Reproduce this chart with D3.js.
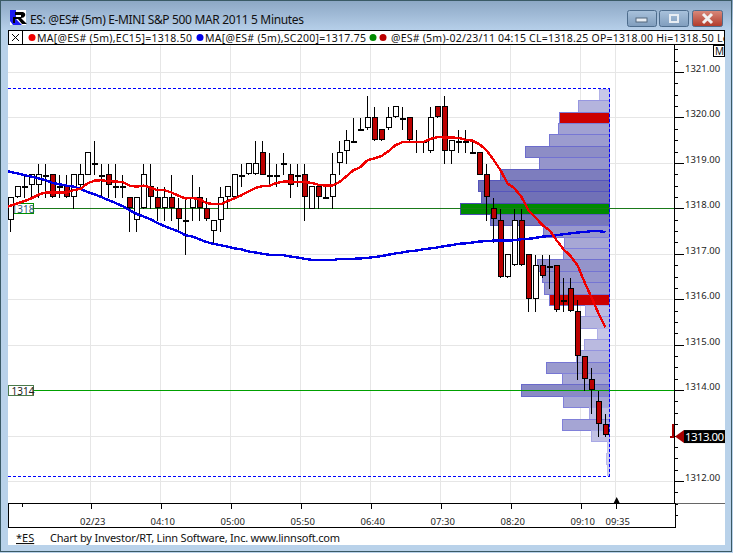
<!DOCTYPE html>
<html><head><meta charset="utf-8">
<style>html,body{margin:0;padding:0;background:#fff}svg{display:block}</style>
<script src="https://cdn.jsdelivr.net/npm/d3@7"></script></head><body>
<svg id="c" width="733" height="553"></svg>
<script>
const opens=[1317.75,1318.25,1318.5,1318.5,1318.5,1318.75,1318.75,1318.5,1318.5,1318.25,1318.5,1318.75,1319,1318.75,1318.75,1318.5,1318.5,1318.25,1317.75,1318,1318.5,1318.25,1318,1318.25,1318,1317.75,1318,1318.25,1318,1317.5,1317.75,1318.25,1318.25,1318.75,1318.75,1318.75,1319.25,1318.75,1318.75,1319,1318.75,1318.75,1318.75,1318,1318.5,1318.25,1318.25,1319,1319.25,1319.5,1319.75,1319.75,1320,1319.75,1319.75,1320,1320,1320,1319.5,1319.5,1319.25,1320.25,1320.25,1319.25,1319.5,1319.5,1319.25,1319.25,1318.75,1318,1317.75,1316.5,1316.75,1317.75,1317,1316,1316.75,1316.75,1316.75,1316,1316.25,1315.75,1314.75,1314.25,1313.75,1313.25];
const closes=[1318.25,1318.5,1318.5,1318.75,1318.75,1318.75,1318.25,1318.5,1318.25,1318.75,1318.75,1319.25,1319,1318.75,1318.5,1318.5,1318.5,1318,1318.25,1318.75,1318.25,1318,1318.25,1318,1317.75,1317.75,1318.25,1318,1317.75,1317.75,1318.25,1318.5,1318.75,1318.75,1319,1319,1318.75,1318.75,1318.75,1319,1318.5,1318.75,1318.25,1318.5,1318.25,1318.25,1318.75,1319.25,1319.5,1319.5,1319.75,1320,1319.5,1319.5,1320,1320.25,1320,1319.5,1319.5,1319.5,1320,1320,1319.25,1319.5,1319.5,1319.5,1319.25,1318.75,1318.25,1317.75,1316.5,1317,1317.75,1316.75,1316,1316.75,1316.5,1316.75,1315.75,1316,1315.75,1314.75,1314.25,1314,1313.25,1313];
const highs=[1318.25,1318.5,1318.75,1318.75,1319,1319,1318.75,1318.75,1318.75,1318.75,1319,1319.25,1319.5,1319,1319,1319,1318.75,1318.25,1318.25,1319,1319,1318.5,1318.5,1318.75,1318.25,1318.25,1318.75,1318.5,1318.25,1317.75,1318.5,1318.5,1318.75,1319,1319,1319.5,1319.5,1319.25,1319,1319.25,1319,1319,1319,1318.5,1318.5,1318.5,1319.25,1319.5,1319.75,1320,1320,1320.5,1320.25,1319.75,1320.25,1320.25,1320.25,1320,1319.75,1319.5,1320.25,1320.25,1320.5,1319.5,1319.75,1319.75,1319.5,1319.25,1319,1318.25,1318,1317,1318,1318,1317,1317,1317,1317,1316.75,1316.5,1316.5,1316,1314.75,1314.5,1314,1313.5];
const lows=[1317.5,1318.25,1318.25,1318.25,1318.25,1318.25,1318.25,1318.25,1318.25,1318,1318.5,1318.75,1318.75,1318.25,1318.25,1318.25,1318.25,1317.5,1317.5,1318,1318,1317.75,1317.75,1317.75,1317.5,1317,1317.75,1317.75,1317.75,1317.25,1317.5,1318,1318.25,1318.5,1318.75,1318.75,1318.75,1318.5,1318.5,1318.75,1318.25,1318.5,1317.75,1318,1318,1318.25,1318,1318.75,1319,1319.5,1319.75,1319.75,1319.5,1319.5,1319.75,1320,1319.75,1319.5,1319.25,1319.25,1319.25,1320,1319,1319,1319.25,1319.25,1319.25,1318.75,1317.75,1317.25,1316.5,1316.5,1316.75,1316.75,1315.75,1315.75,1316.5,1316.25,1315.75,1315.75,1315.75,1314.25,1314,1313.5,1313,1313];
const ema15=[1318.07,1318.12,1318.17,1318.23,1318.31,1318.36,1318.36,1318.36,1318.36,1318.41,1318.44,1318.56,1318.62,1318.63,1318.61,1318.60,1318.59,1318.51,1318.49,1318.51,1318.47,1318.41,1318.41,1318.36,1318.29,1318.23,1318.24,1318.21,1318.13,1318.10,1318.10,1318.17,1318.23,1318.30,1318.38,1318.46,1318.50,1318.51,1318.57,1318.60,1318.60,1318.59,1318.59,1318.57,1318.53,1318.51,1318.51,1318.59,1318.72,1318.85,1318.92,1319.07,1319.11,1319.16,1319.27,1319.40,1319.47,1319.47,1319.47,1319.47,1319.54,1319.58,1319.57,1319.57,1319.56,1319.52,1319.50,1319.42,1319.29,1319.08,1318.85,1318.56,1318.45,1318.26,1317.97,1317.81,1317.64,1317.53,1317.31,1317.11,1316.96,1316.76,1316.39,1316.05,1315.70,1315.39];
const sma200=[1318.81,1318.78,1318.74,1318.71,1318.67,1318.63,1318.57,1318.54,1318.51,1318.49,1318.44,1318.37,1318.32,1318.26,1318.19,1318.13,1318.06,1317.97,1317.89,1317.83,1317.77,1317.69,1317.62,1317.56,1317.50,1317.42,1317.39,1317.33,1317.27,1317.23,1317.20,1317.17,1317.13,1317.11,1317.06,1317.04,1317.01,1316.99,1316.98,1316.98,1316.95,1316.93,1316.90,1316.88,1316.87,1316.87,1316.87,1316.90,1316.90,1316.90,1316.91,1316.92,1316.94,1316.96,1316.99,1317.02,1317.04,1317.07,1317.08,1317.11,1317.13,1317.15,1317.18,1317.20,1317.23,1317.24,1317.26,1317.28,1317.29,1317.30,1317.30,1317.30,1317.31,1317.33,1317.34,1317.36,1317.39,1317.40,1317.42,1317.44,1317.46,1317.48,1317.49,1317.51,1317.51,1317.49];
const emaLead=1318.05, smaLead=1318.83;
const profilePrices=[1320.5,1320.25,1320,1319.75,1319.5,1319.25,1319,1318.75,1318.5,1318.25,1318,1317.75,1317.5,1317.25,1317,1316.75,1316.5,1316.25,1316,1315.75,1315.5,1315.25,1315,1314.75,1314.5,1314.25,1314,1313.75,1313.5,1313.25,1313,1312.75,1312.5,1312.25];
const profileVolumes=[10,31,50,51,60,84,70,109,131,128,149,119,66,45,46,72,67,65,60,24,29,12,25,33,63,47,88,46,20,47,18,2,3,2];
const volumeHighlights={1318:"#008a00",1320:"#cc0000",1316:"#cc0000"};
const priceTicks=[1321,1320,1319,1318,1317,1316,1315,1314,1313,1312];
const timeTickIndex=[11.6,21.6,31.6,41.6,51.6,61.6,71.6,81.6,86.6];
const timeTickLabels=["02/23","04:10","05:00","05:50","06:40","07:30","08:20","09:10","09:35"];
const valueHigh=1320.64, valueLow=1312.12, hLines=[1318,1314], lastPrice=1313;

const svg=d3.select("#c");
const y=d3.scaleLinear().domain([1321,1312]).range([72.5,481.5]);
const x=d3.scaleLinear().domain([0,85]).range([10.5,605.5]);
const vol=d3.scaleLinear().domain([0,149]).range([609.5,460.5]);
const volFill=d3.scaleLinear().domain([0,50,149]).range(["#d2d2ee","#a2a2d2","#6464b0"]);
const volStroke=d3.scaleLinear().domain([0,50,149]).range(["#c0c0ec","#7c7cd8","#4c4cb4"]);
const font='"Noto Sans",sans-serif';
const snap=v=>Math.round(v-.5)+.5;

// window chrome
const defs=svg.append("defs");
const tg=defs.append("linearGradient").attr("id","tb").attr("x1",0).attr("x2",0).attr("y1",0).attr("y2",1);
tg.append("stop").attr("offset",0).attr("stop-color","#8ba6c4");
tg.append("stop").attr("offset",1).attr("stop-color","#b6cfe9");
svg.append("rect").attr("width",733).attr("height",553).attr("fill","#b9d2ea");
svg.append("rect").attr("width",733).attr("height",30).attr("fill","url(#tb)");
svg.append("rect").attr("x",.5).attr("y",.5).attr("width",731).attr("height",551).attr("fill","none").attr("stroke","#3a5a66");
svg.append("rect").attr("x",8).attr("y",30).attr("width",717).attr("height",515).attr("fill","#fff");
function btn(x0,w,c1,c2){const g=defs.append("linearGradient").attr("id","b"+x0).attr("x1",0).attr("x2",0).attr("y1",0).attr("y2",1);
 g.append("stop").attr("offset",0).attr("stop-color",c1);g.append("stop").attr("offset",1).attr("stop-color",c2);
 svg.append("rect").attr("x",x0+.5).attr("y",10.5).attr("width",w).attr("height",16).attr("rx",2).attr("fill",`url(#b${x0})`).attr("stroke","#4d6c8c");}
btn(627,29,"#a9c2dc","#7f9dbd");btn(659,29,"#a9c2dc","#7f9dbd");btn(692,30,"#d98a7c","#b03a2a");
svg.append("rect").attr("x",636).attr("y",18).attr("width",11).attr("height",4).attr("fill","#e8eef4").attr("stroke","#53677c");
svg.append("rect").attr("x",670).attr("y",15).attr("width",8).attr("height",7).attr("fill","none").attr("stroke","#e8eef4").attr("stroke-width",2);
svg.append("path").attr("d","M703 14L712 23M712 14L703 23").attr("stroke","#f2f2f2").attr("stroke-width",3);
svg.append("rect").attr("x",10).attr("y",10).attr("width",16).attr("height",15).attr("fill","#fff");
svg.append("path").attr("d","M10 10H16V19L22 25H13L10 21Z").attr("fill","#1c1cf0");
svg.append("path").attr("d","M15 12H23Q26 13 25 16Q24 18 21 18L27 24H22L18 19H15V23H13V17H21V15H15Z").attr("fill","#000");

const plot=svg.append("g").attr("shape-rendering","crispEdges");
svg.append("text").attr("x",30).attr("y",24).attr("font-family",font).attr("font-size",12).attr("textLength",274).attr("fill","#111").text("ES: @ES# (5m) E-MINI S&P 500 MAR 2011 5 Minutes");
// grid
plot.selectAll(".gh").data(priceTicks).join("line").attr("x1",8).attr("x2",673).attr("y1",d=>snap(y(d))).attr("y2",d=>snap(y(d))).attr("stroke","#e6e6e6");
plot.selectAll(".gv").data(timeTickIndex).join("line").attr("x1",d=>snap(x(d))-1).attr("x2",d=>snap(x(d))-1).attr("y1",45).attr("y2",503).attr("stroke","#e6e6e6");
// volume profile
const rowH=Math.abs(y(0.25+1313)-y(1313));
plot.selectAll(".pr").data(profilePrices).join("rect")
 .attr("x",(d,i)=>snap(vol(profileVolumes[i]))).attr("width",(d,i)=>609-snap(vol(profileVolumes[i])))
 .attr("y",d=>snap(y(d)-rowH/2)).attr("height",d=>snap(y(d)+rowH/2)-snap(y(d)-rowH/2))
 .attr("fill",(d,i)=>volumeHighlights[d]||volFill(profileVolumes[i])).attr("stroke",(d,i)=>volStroke(profileVolumes[i]));
// horizontal level lines
plot.selectAll(".hl").data(hLines).join("line").attr("x1",8).attr("x2",674).attr("y1",d=>snap(y(d))).attr("y2",d=>snap(y(d))).attr("stroke",(d,i)=>i?"#00a000":"#1a7a1a");
[valueHigh,valueLow].forEach(v=>plot.append("line").attr("x1",8).attr("x2",609.5).attr("y1",snap(y(v))).attr("y2",snap(y(v))).attr("stroke","#0000ff").attr("stroke-dasharray","3,2"));
plot.append("line").attr("x1",609.5).attr("x2",609.5).attr("y1",y(valueHigh)).attr("y2",y(valueLow)).attr("stroke","#0000ff").attr("stroke-dasharray","3,2");
// level tags, under the candles
[{v:1318,c:"#009000",t:"#2b5a78",x0:13.5,w:20},{v:1314,c:"#4a7a4a",t:"#222",x0:8.5,w:25}].forEach(t=>{const yy=snap(y(t.v));
 plot.append("rect").attr("x",t.x0).attr("y",yy-5).attr("width",t.w).attr("height",10).attr("fill","#fff").attr("stroke",t.c);
 plot.append("text").attr("x",11.5).attr("y",yy+4).attr("font-family",font).attr("font-size",10).attr("fill",t.t).attr("shape-rendering","auto").text(t.v);
});
// candles
const idx=d3.range(opens.length);
plot.selectAll(".w").data(idx).join("line").attr("x1",i=>x(i)).attr("x2",i=>x(i)).attr("y1",i=>snap(y(highs[i]))).attr("y2",i=>snap(y(lows[i]))).attr("stroke","#000");
plot.selectAll(".b").data(idx.filter(i=>opens[i]!==closes[i])).join("rect")
 .attr("x",i=>x(i)-2).attr("width",5)
 .attr("y",i=>snap(y(Math.max(opens[i],closes[i])))).attr("height",i=>Math.round(Math.abs(y(opens[i])-y(closes[i])))-1)
 .attr("fill",i=>closes[i]>opens[i]?"#fff":"#bb0000").attr("stroke","#000");
plot.selectAll(".d").data(idx.filter(i=>opens[i]===closes[i])).join("rect")
 .attr("x",i=>x(i)-2.5).attr("width",6).attr("y",i=>Math.round(y(opens[i]))).attr("height",2).attr("fill","#000");
// moving averages
const line=d3.line().x(d=>x(d[0])).y(d=>y(d[1]));
const withLead=(lead,s)=>[[-0.35,lead]].concat(s.map((v,i)=>[i,v]));
plot.append("path").attr("d",line(withLead(smaLead,sma200))).attr("fill","none").attr("stroke","#0000e6").attr("stroke-width",2.4);
plot.append("path").attr("d",line(withLead(emaLead,ema15))).attr("fill","none").attr("stroke","#f00000").attr("stroke-width",2.4);
// right axis
const ax=svg.append("g").attr("shape-rendering","crispEdges");
ax.append("line").attr("x1",674.5).attr("x2",674.5).attr("y1",45).attr("y2",503).attr("stroke","#000");
const minorT=d3.range(1311.25,1321.51,.25).filter(v=>!Number.isInteger(v));
ax.selectAll(".mt").data(minorT).join("line").attr("x1",674).attr("x2",678).attr("y1",d=>snap(y(d))).attr("y2",d=>snap(y(d))).attr("stroke","#000");
ax.selectAll(".Mt").data(priceTicks).join("line").attr("x1",674).attr("x2",684).attr("y1",d=>snap(y(d))).attr("y2",d=>snap(y(d))).attr("stroke","#000");
svg.selectAll(".pl").data(priceTicks.filter(d=>d!==lastPrice)).join("text").attr("x",685).attr("y",d=>y(d)-.5).attr("font-family",font).attr("font-size",9.5).attr("fill","#222").text(d=>d.toFixed(2));
// bottom axis
ax.append("line").attr("x1",675).attr("x2",725).attr("y1",503.5).attr("y2",503.5).attr("stroke","#666");
ax.append("rect").attr("x",8.5).attr("y",503.5).attr("width",667).attr("height",24).attr("fill","#fff").attr("stroke","#000");
ax.selectAll(".tt").data(timeTickIndex).join("line").attr("x1",d=>snap(x(d))).attr("x2",d=>snap(x(d))).attr("y1",503).attr("y2",509).attr("stroke","#000");
ax.append("line").attr("x1",22.5).attr("x2",22.5).attr("y1",503).attr("y2",507).attr("stroke","#000");
svg.selectAll(".tl").data(timeTickIndex).join("text").attr("x",d=>x(d)+1).attr("y",525).attr("text-anchor","middle").attr("font-family",font).attr("font-size",9.5).attr("fill","#222").text((d,i)=>timeTickLabels[i]);
svg.append("path").attr("d",d3.line()([[x(86.6)-3,503],[x(86.6)+3,503],[x(86.6),497]])+"Z").attr("fill","#000");
// footer
svg.append("text").attr("x",16).attr("y",542).attr("font-family",font).attr("font-size",11).attr("text-decoration","underline").attr("fill","#111").text("*ES");
svg.append("text").attr("x",50).attr("y",542).attr("font-family",font).attr("font-size",11).attr("textLength",290).attr("fill","#111").text("Chart by Investor/RT, Linn Software, Inc. www.linnsoft.com");
// legend bar
svg.append("rect").attr("x",8.5).attr("y",30.5).attr("width",716).attr("height",14).attr("fill","#fff").attr("stroke","#000").attr("shape-rendering","crispEdges");
svg.append("line").attr("x1",22.5).attr("x2",22.5).attr("y1",31).attr("y2",44).attr("stroke","#000").attr("shape-rendering","crispEdges");
svg.append("path").attr("d","M12 34L19 41M19 34L12 41").attr("stroke","#000");
const clip=defs.append("clipPath").attr("id","lg");clip.append("rect").attr("x",9).attr("y",31).attr("width",716).attr("height",13);
const lg=svg.append("g").attr("clip-path","url(#lg)").attr("font-family",font).attr("font-size",10.5).attr("fill","#111");
[[32,"#f00000"],[200,"#0000e6"],[373,"#008a00"],[383,"#bb0000"]].forEach(d=>svg.append("circle").attr("cx",d[0]).attr("cy",37.5).attr("r",3.5).attr("fill",d[1]));
lg.append("text").attr("x",37).attr("y",42).attr("textLength",155).text("MA[@ES# (5m),EC15]=1318.50");
lg.append("text").attr("x",205).attr("y",42).attr("textLength",161).text("MA[@ES# (5m),SC200]=1317.75");
lg.append("text").attr("x",391).attr("y",42).attr("textLength",338).text("@ES# (5m)-02/23/11 04:15 CL=1318.25 OP=1318.00 Hi=1318.50 Lo");
// M box
svg.append("rect").attr("x",713.5).attr("y",45.5).attr("width",11).attr("height",11).attr("fill","#fff").attr("stroke","#000").attr("shape-rendering","crispEdges");
svg.append("text").attr("x",715).attr("y",55).attr("font-family",font).attr("font-size",10).attr("fill","#111").text("M");
// last price marker
const ly=y(lastPrice);
svg.append("rect").attr("x",684).attr("y",ly-6).attr("width",41).attr("height",13).attr("fill","#000");
svg.append("text").attr("x",685).attr("y",ly+5).attr("font-family",font).attr("font-size",11.5).attr("fill","#fff").attr("textLength",39).text(lastPrice.toFixed(2));
svg.append("path").attr("d",d3.line()([[675,ly+.5],[684,ly-6],[684,ly+7]])+"Z").attr("fill","#a80000");
svg.append("path").attr("d",`M673 ${ly-12}V${ly+1}M670 ${ly+1}H674`).attr("stroke","#a80000").attr("stroke-width",2).attr("fill","none");
</script></body></html>
